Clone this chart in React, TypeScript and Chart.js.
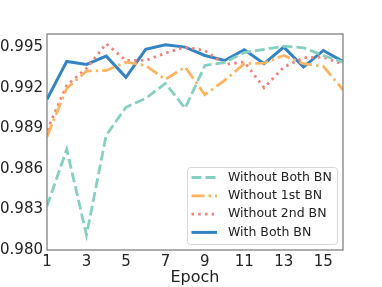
import React, { useEffect, useRef } from "react";
import { Chart, registerables } from "chart.js";

Chart.register(...registerables);

const epochs = [1, 2, 3, 4, 5, 6, 7, 8, 9, 10, 11, 12, 13, 14, 15, 16];
const withoutBoth = [0.98325, 0.98746, 0.98111, 0.9885, 0.99057, 0.99123, 0.99234, 0.9905, 0.99367, 0.9939, 0.99463, 0.99486, 0.9951, 0.99498, 0.99441, 0.99392];
const without1st = [0.9884, 0.99197, 0.99325, 0.9933, 0.99392, 0.99367, 0.99264, 0.99355, 0.9915, 0.99256, 0.9938, 0.99385, 0.99441, 0.9938, 0.9936, 0.99187];
const without2nd = [0.98887, 0.9922, 0.99345, 0.99528, 0.99404, 0.99404, 0.99458, 0.99503, 0.99478, 0.99375, 0.99392, 0.99202, 0.99355, 0.99424, 0.99429, 0.99375];
const withBoth = [0.99116, 0.99397, 0.99375, 0.99436, 0.99279, 0.99486, 0.9952, 0.99503, 0.99441, 0.99404, 0.99483, 0.9938, 0.99503, 0.99355, 0.99478, 0.99397];

const seriesNames = ["Without Both BN", "Without 1st BN", "Without 2nd BN", "With Both BN"];
const yTicks = [0.98, 0.983, 0.986, 0.989, 0.992, 0.995];
const xTicks = [1, 3, 5, 7, 9, 11, 13, 15];

const FONT = "'DejaVu Sans', sans-serif";

const styles = [
  { color: "#86d0c2", dash: [10, 4], width: 2.8 },
  { color: "#fdb462", dash: [13, 4, 2.5, 4], width: 2.8 },
  { color: "#f5807a", dash: [2.5, 4.2], width: 2.8 },
  { color: "#3483c3", dash: [] as number[], width: 3 },
];

const framePlugin = {
  id: "frame",
  afterDatasetsDraw(chart: any) {
    const { ctx, chartArea } = chart;
    ctx.save();
    ctx.strokeStyle = "#777777";
    ctx.lineWidth = 1.2;
    ctx.strokeRect(chartArea.left, chartArea.top, chartArea.right - chartArea.left, chartArea.bottom - chartArea.top);
    ctx.restore();
  },
};

const legendPlugin = {
  id: "customLegend",
  afterDraw(chart: any) {
    const { ctx, chartArea } = chart;
    const bx = chartArea.right - 156;
    const by = chartArea.bottom - 83;
    const bw = 150;
    const bh = 77;
    ctx.save();
    ctx.fillStyle = "rgba(255,255,255,0.85)";
    ctx.strokeStyle = "#d8d8d8";
    ctx.lineWidth = 1;
    ctx.beginPath();
    if (ctx.roundRect) ctx.roundRect(bx + 0.5, by + 0.5, bw, bh, 3);
    else ctx.rect(bx + 0.5, by + 0.5, bw, bh);
    ctx.fill();
    ctx.stroke();
    seriesNames.forEach((name, i) => {
      const y = by + 10.5 + i * 18.3;
      const s = styles[i];
      ctx.strokeStyle = s.color;
      ctx.lineWidth = s.width;
      ctx.setLineDash(s.dash);
      ctx.beginPath();
      ctx.moveTo(bx + 4.5, y);
      ctx.lineTo(bx + 30, y);
      ctx.stroke();
      ctx.setLineDash([]);
      ctx.fillStyle = "#222222";
      ctx.font = `12.5px ${FONT}`;
      ctx.textBaseline = "middle";
      ctx.textAlign = "left";
      ctx.fillText(name, bx + 41, y);
    });
    ctx.restore();
  },
};

export default function App() {
  const ref = useRef<HTMLCanvasElement | null>(null);
  useEffect(() => {
    document.body.style.margin = "0";
    const all = [withoutBoth, without1st, without2nd, withBoth];
    const chart = new Chart(ref.current as HTMLCanvasElement, {
      type: "line",
      data: {
        datasets: all.map((vals, i) => ({
          label: seriesNames[i],
          data: epochs.map((e, j) => ({ x: e, y: vals[j] })),
          borderColor: styles[i].color,
          borderWidth: styles[i].width,
          borderDash: styles[i].dash,
          pointRadius: 0,
          tension: 0,
          fill: false,
        })),
      },
      options: {
        animation: false,
        responsive: false,
        layout: { padding: { top: 34, right: 39, left: 0, bottom: 0 } },
        plugins: { legend: { display: false }, tooltip: { enabled: false } },
        scales: {
          x: {
            type: "linear",
            min: 1,
            max: 16,
            grid: { display: false, drawTicks: false },
            border: { display: false },
            afterBuildTicks: (scale: any) => {
              scale.ticks = xTicks.map((v) => ({ value: v }));
            },
            afterFit: (scale: any) => {
              scale.height = 37;
            },
            ticks: {
              color: "#222222",
              font: { family: FONT, size: 15 },
              padding: 3,
              maxRotation: 0,
              autoSkip: false,
              callback: (v: any) => String(v),
            },
            title: {
              display: true,
              text: "Epoch",
              color: "#222222",
              font: { family: FONT, size: 16 },
              padding: { top: 0, bottom: 0 },
            },
          },
          y: {
            min: 0.98,
            max: 0.996,
            grid: { display: false, drawTicks: false },
            border: { display: false },
            afterBuildTicks: (scale: any) => {
              scale.ticks = yTicks.map((v) => ({ value: v }));
            },
            afterFit: (scale: any) => {
              scale.width = 47;
            },
            ticks: {
              color: "#222222",
              font: { family: FONT, size: 15 },
              padding: 4,
              autoSkip: false,
              callback: (v: any) => Number(v).toFixed(3),
            },
          },
        },
      },
      plugins: [framePlugin, legendPlugin],
    } as any);
    return () => chart.destroy();
  }, []);
  return (
    <div style={{ position: "absolute", left: 0, top: 0, width: 382, height: 287 }}>
      <canvas ref={ref} width={382} height={287} style={{ width: 382, height: 287 }} />
    </div>
  );
}
